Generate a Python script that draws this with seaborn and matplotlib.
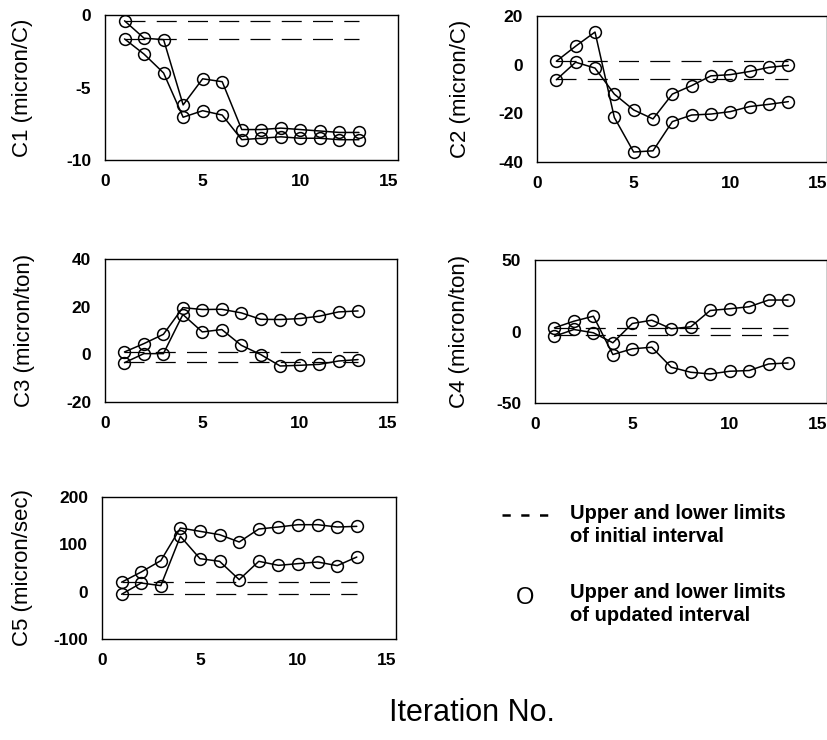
import numpy as np
import pandas as pd
import matplotlib
matplotlib.use("Agg")
import matplotlib.pyplot as plt
from matplotlib.lines import Line2D
import seaborn as sns

sns.set_style("white")
plt.rcParams["font.family"] = ["Liberation Sans", "DejaVu Sans"]
plt.rcParams["text.color"] = "black"
plt.rcParams["axes.labelcolor"] = "black"

# Iteration numbers
iterations = list(range(1, 14))

# Coefficient C1 (micron/C)
c1_a = [-0.4, -1.6, -1.7, -6.2, -4.4, -4.6, -7.9, -7.9, -7.8, -7.9, -8.0, -8.1, -8.1]
c1_b = [-1.65, -2.7, -4.0, -7.05, -6.6, -6.9, -8.6, -8.5, -8.4, -8.5, -8.5, -8.6, -8.6]
c1_init = [-1.65, -0.4]

# Coefficient C2 (micron/C)
c2_a = [1.4, 7.6, 13.4, -21.7, -35.9, -35.4, -23.4, -20.7, -20.3, -19.3, -17.2, -16.3, -15.2]
c2_b = [-6.2, 1.0, -1.4, -12.1, -18.6, -22.3, -12.1, -8.6, -4.6, -4.1, -2.8, -1.1, -0.3]
c2_init = [-6.0, 1.6]

# Coefficient C3 (micron/ton)
c3_a = [1.0, 4.5, 8.4, 19.6, 18.8, 18.9, 17.4, 14.7, 14.6, 15.0, 16.0, 17.8, 18.2]
c3_b = [-3.5, 0.3, 0.3, 16.7, 9.4, 10.4, 3.8, -0.1, -4.9, -4.6, -4.2, -2.8, -2.2]
c3_init = [-3.2, 1.0]

# Coefficient C4 (micron/ton)
c4_a = [2.6, 7.2, 10.7, -16.1, -12.1, -11.0, -25.0, -28.5, -29.7, -27.8, -27.3, -22.7, -22.0]
c4_b = [-3.3, 1.4, -0.9, -7.9, 5.6, 7.9, 1.9, 3.3, 14.7, 15.9, 17.3, 22.0, 22.0]
c4_init = [-2.2, 2.6]

# Coefficient C5 (micron/sec)
c5_a = [20.0, 41.5, 65.5, 134.5, 127.5, 120.4, 104.9, 132.4, 136.6, 141.5, 141.5, 136.6, 138.0]
c5_b = [-5.5, 18.3, 12.7, 116.9, 69.7, 64.1, 25.4, 64.1, 55.6, 59.2, 62.7, 54.9, 73.2]
c5_init = [-5.0, 20.0]

ylabels = ["C1 (micron/C)", "C2 (micron/C)", "C3 (micron/ton)",
           "C4 (micron/ton)", "C5 (micron/sec)"]
yticks = [[-10, -5, 0], [-40, -20, 0, 20], [-20, 0, 20, 40],
          [-50, 0, 50], [-100, 0, 100, 200]]
xticks = [0, 5, 10, 15]

panels = [(c1_a, c1_b, c1_init), (c2_a, c2_b, c2_init), (c3_a, c3_b, c3_init),
          (c4_a, c4_b, c4_init), (c5_a, c5_b, c5_init)]

W, H = 828, 740
# axes frames in pixel units: left, top, right, bottom
frames = [(105, 15, 398, 160), (537, 16, 827, 162),
          (105, 259, 397, 402), (535, 260, 827, 403),
          (102, 497, 396, 639)]
label_x = [33, 471, 35, 470, 33]

fig = plt.figure(figsize=(W / 100, H / 100), dpi=100)

for i, ((sa, sb, init), (l, t, r, b)) in enumerate(zip(panels, frames)):
    ax = fig.add_axes([l / W, 1 - b / H, (r - l) / W, (b - t) / H])
    df = pd.DataFrame({
        "iteration": iterations * 2,
        "value": sa + sb,
        "bound": ["a"] * len(sa) + ["b"] * len(sb),
    })
    init_df = pd.DataFrame({
        "iteration": iterations * 2,
        "value": [init[0]] * len(iterations) + [init[1]] * len(iterations),
        "bound": ["lo"] * len(iterations) + ["hi"] * len(iterations),
    })
    sns.lineplot(data=init_df, x="iteration", y="value", units="bound",
                 estimator=None, color="black", lw=0.9, dashes=False,
                 linestyle=(0, (16, 9)), legend=False, ax=ax)
    sns.lineplot(data=df, x="iteration", y="value", units="bound",
                 estimator=None, color="black", lw=1.1, marker="o",
                 markersize=8.5, markerfacecolor="none",
                 markeredgecolor="black", markeredgewidth=1.1,
                 legend=False, ax=ax)
    ax.set_xlim(0, 15)
    ax.set_ylim(yticks[i][0], yticks[i][-1])
    ax.set_xticks(xticks)
    ax.set_yticks(yticks[i])
    ax.set_xticklabels([str(v) for v in xticks])
    ax.set_yticklabels([str(v) for v in yticks[i]])
    ax.tick_params(direction="in", length=2, width=0.8, labelsize=12.5,
                   pad=10, colors="black")
    for lab in ax.get_xticklabels() + ax.get_yticklabels():
        lab.set_fontweight("bold")
    # the last x label sits flush against its tick
    ax.get_xticklabels()[-1].set_horizontalalignment("right")
    ax.set_xlabel("")
    ax.set_ylabel(ylabels[i], fontsize=16, color="black")
    ax.yaxis.set_label_coords((label_x[i] - l) / (r - l), 0.5)
    for sp in ax.spines.values():
        sp.set_color("black")
        sp.set_linewidth(1.0)

# Legend block
fig.add_artist(Line2D([502 / W, 552 / W], [1 - 515 / H, 1 - 515 / H],
                      color="black", lw=1.8, linestyle=(0, (3.3, 4.2))))
fig.text(570 / W, 1 - 525 / H, "Upper and lower limits\nof initial interval",
         fontsize=14.5, fontweight="bold", va="center", ha="left",
         linespacing=1.25, color="black")
fig.text(525 / W, 1 - 598 / H, "O", fontsize=17, va="center", ha="center",
         color="black")
fig.text(570 / W, 1 - 604 / H, "Upper and lower limits\nof updated interval",
         fontsize=14.5, fontweight="bold", va="center", ha="left",
         linespacing=1.25, color="black")

fig.text(472 / W, 1 - 713 / H, "Iteration No.", fontsize=22, ha="center",
         va="center", color="black")

fig.savefig("out.png", dpi=100)
